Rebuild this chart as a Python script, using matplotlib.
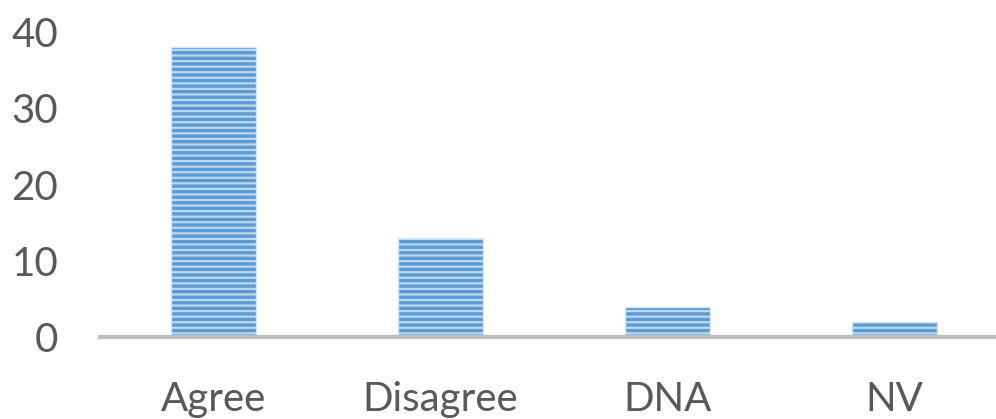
import matplotlib.pyplot as plt

# survey responses
categories = ['Agree', 'Disagree', 'DNA', 'NV']
counts = [38, 13, 4, 2]
yticks = [0, 10, 20, 30, 40]

plt.rcParams['font.family'] = ['Lato', 'DejaVu Sans']
plt.rcParams['hatch.linewidth'] = 2.4

fig = plt.figure(figsize=(9.96, 4.19), dpi=100)
ax = fig.add_axes([0.1004, 0.1957, 0.9116, 0.7279])

x = range(len(categories))
# striped fill: light base with blue horizontal hatch
ax.bar(x, counts, width=0.375, color='#bed8f0', edgecolor='#5b9bd5',
       hatch='---', linewidth=0, zorder=2)
ax.bar(x, counts, width=0.375, fill=False, edgecolor='#d6e6f6',
       linewidth=1, zorder=3)

ax.set_xlim(-0.5, 3.5)
ax.set_ylim(0, 40)
ax.set_xticks(list(x))
ax.set_xticklabels(categories)
ax.set_yticks(yticks)

for side in ['top', 'right', 'left']:
    ax.spines[side].set_visible(False)
ax.spines['bottom'].set_color('#bfbfbf')
ax.spines['bottom'].set_linewidth(3)
ax.spines['bottom'].set_zorder(4)

ax.tick_params(axis='both', length=0, labelsize=29, colors='#595959')
ax.tick_params(axis='y', pad=30)
ax.tick_params(axis='x', pad=32)

fig.savefig('out.png', dpi=100)
